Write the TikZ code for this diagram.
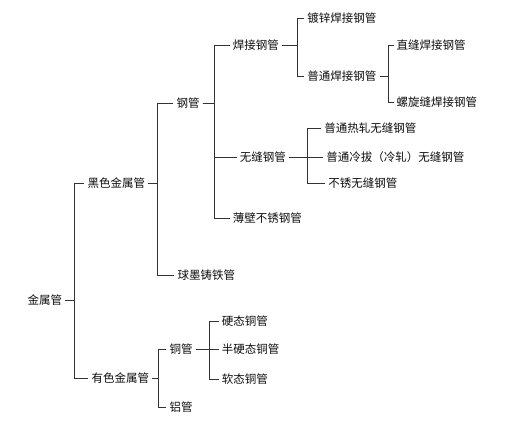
\documentclass[tikz,border=0pt]{standalone}
\usepackage{fontspec}
\newfontfamily\cjk{Noto Sans CJK SC}
\usetikzlibrary{positioning}

\begin{document}
\begin{tikzpicture}[
  node distance=14pt,
  every node/.style={inner sep=3pt, text=black!95, font=\cjk\fontsize{11.5pt}{13pt}\selectfont},
  item/.style={anchor=west},
  branch/.style={draw=black!80, line width=0.7pt}
]
\useasboundingbox (0,0) rectangle (527pt,-423pt);

% Root
\node[item] (metal) at (24.5pt,-300pt) {金属管};

% Ferrous and non-ferrous
\node[right=19pt of metal, yshift=117pt] (ferrous) {黑色金属管};
\node[right=23pt of metal, yshift=-78pt] (nonferrous) {有色金属管};

% Children of ferrous
\node[right=25pt of ferrous, yshift=80pt] (steel) {钢管};
\node[right=26pt of ferrous, yshift=-92pt] (ductile) {球墨铸铁管};

% Children of steel
\node[right=27pt of steel, yshift=58pt] (welded) {焊接钢管};
\node[right=34pt of steel, yshift=-54pt] (seamless) {无缝钢管};
\node[right=27pt of steel, yshift=-115pt] (thinwall) {薄壁不锈钢管};

% Children of welded
\node[right=22pt of welded, yshift=27pt] (galv) {镀锌焊接钢管};
\node[right=22pt of welded, yshift=-31pt] (plainweld) {普通焊接钢管};
\node[right=14pt of plainweld, yshift=31pt] (straight) {直缝焊接钢管};
\node[right=14pt of plainweld, yshift=-26pt] (spiral) {螺旋缝焊接钢管};

% Children of seamless
\node[right=32pt of seamless, yshift=29pt] (hotroll) {普通热轧无缝钢管};
\node[right=34pt of seamless] (colddraw) {普通冷拔（冷轧）无缝钢管};
\node[right=36pt of seamless, yshift=-26pt] (stainless) {不锈无缝钢管};

% Children of non-ferrous
\node[right=14pt of nonferrous, yshift=29pt] (copper) {铜管};
\node[right=14pt of nonferrous, yshift=-29pt] (alum) {铝管};
\node[right=23pt of copper, yshift=28pt] (hard) {硬态铜管};
\node[right=23pt of copper] (halfhard) {半硬态铜管};
\node[right=23pt of copper, yshift=-30pt] (soft) {软态铜管};

% Connectors
\draw[branch] (metal.east) -- ++(8.5pt,0) |- (ferrous.west);
\draw[branch] (metal.east) -- ++(8.5pt,0) |- (nonferrous.west);

\draw[branch] (ferrous.east) -- ++(9.5pt,0) |- (steel.west);
\draw[branch] (ferrous.east) -- ++(9.5pt,0) |- (ductile.west);

\draw[branch] (steel.east) -- ++(11.5pt,0) |- (welded.west);
\draw[branch] (steel.east) -- ++(11.5pt,0) |- (seamless.west);
\draw[branch] (steel.east) -- ++(11.5pt,0) |- (thinwall.west);

\draw[branch] (welded.east) -- ++(15.5pt,0) |- (galv.west);
\draw[branch] (welded.east) -- ++(15.5pt,0) |- (plainweld.west);

\draw[branch] (plainweld.east) -- ++(8.5pt,0) |- (straight.west);
\draw[branch] (plainweld.east) -- ++(8.5pt,0) |- (spiral.west);

\draw[branch] (seamless.east) -- ++(18.5pt,0) |- (hotroll.west);
\draw[branch] (seamless.east) -- (colddraw.west);
\draw[branch] (seamless.east) -- ++(18.5pt,0) |- (stainless.west);

\draw[branch] (nonferrous.east) -- ++(6.5pt,0) |- (copper.west);
\draw[branch] (nonferrous.east) -- ++(6.5pt,0) |- (alum.west);

\draw[branch] (copper.east) -- ++(13.5pt,0) |- (hard.west);
\draw[branch] (copper.east) -- (halfhard.west);
\draw[branch] (copper.east) -- ++(13.5pt,0) |- (soft.west);

\end{tikzpicture}
\end{document}
